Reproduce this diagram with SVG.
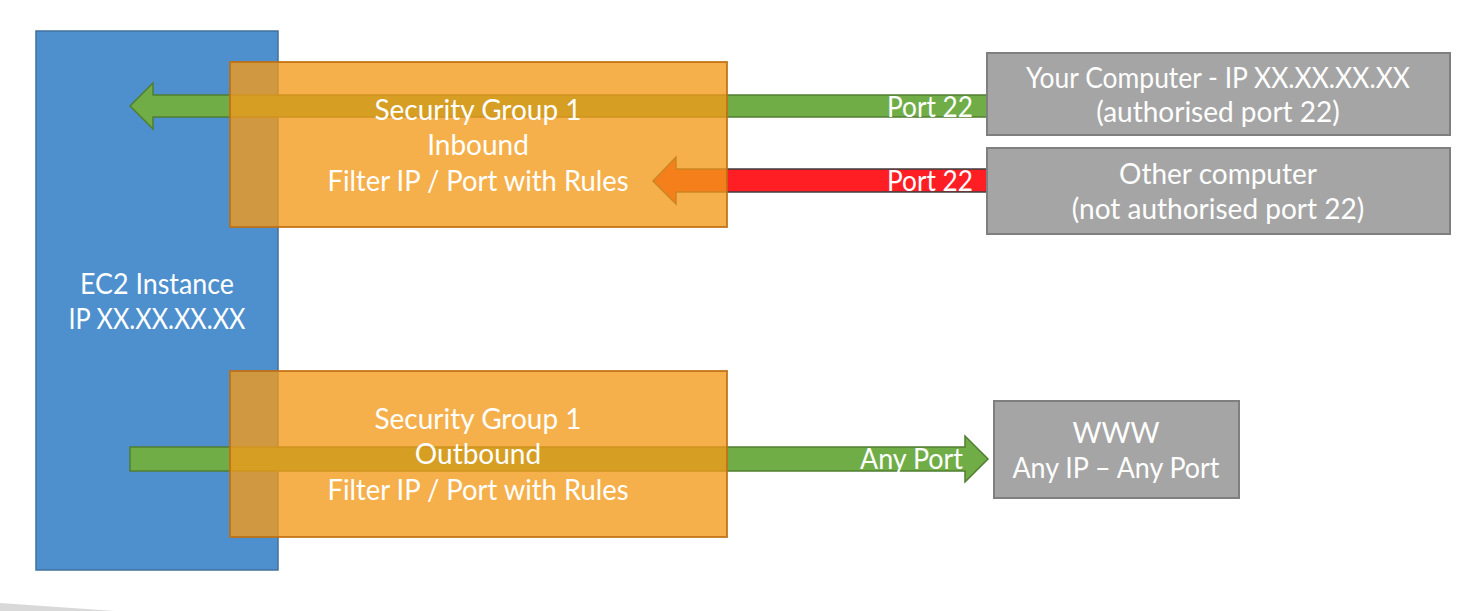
<svg xmlns="http://www.w3.org/2000/svg" width="1460" height="611" viewBox="0 0 1460 611">
  <style>
    .t { font-family: Lato, "Open Sans", "Liberation Sans", sans-serif; font-size: 28px; fill: #FFFFFF; text-anchor: middle; }
    .lbl { font-family: Lato, "Open Sans", "Liberation Sans", sans-serif; font-size: 28px; fill: #FFFFFF; text-anchor: end; }
    .sg { fill: #F29A19; fill-opacity: 0.785; stroke: #C06F10; stroke-opacity: 0.85; stroke-width: 2; }
    .gray { fill: #A5A5A5; stroke: #7F7F7F; stroke-width: 2; }
    .green { fill: #70AD47; stroke: #507E32; stroke-width: 1.5; }
    .red { fill: #FF1E24; stroke: #3F3F3F; stroke-width: 1.5; }
  </style>
  <rect width="1460" height="611" fill="#FFFFFF"/>
  <polygon points="0,603 115,611 0,611" fill="#D9D9D9"/>

  <g id="ec2">
    <rect x="36" y="31" width="242" height="539" fill="#4E8FCE" stroke="#41719C" stroke-width="1.5"/>
    <text class="t" x="157" y="294" textLength="154" lengthAdjust="spacingAndGlyphs">EC2 Instance</text>
    <text class="t" x="157" y="329" textLength="177" lengthAdjust="spacingAndGlyphs">IP XX.XX.XX.XX</text>
  </g>

  <g id="connectors">
    <path class="green" d="M130,106 L153,83 L153,95 L987,95 L987,117 L153,117 L153,129 Z"/>
    <path class="red" d="M653,181 L676,157 L676,169 L987,169 L987,192 L676,192 L676,204 Z"/>
    <path class="green" d="M130,447 L965,447 L965,436 L988,459 L965,482 L965,471 L130,471 Z"/>
  </g>

  <g id="sg-inbound">
    <rect class="sg" x="230" y="62" width="497" height="165"/>
    <text class="t" x="478" y="120">Security Group 1</text>
    <text class="t" x="478" y="155">Inbound</text>
    <text class="t" x="478" y="191" textLength="301" lengthAdjust="spacingAndGlyphs">Filter IP / Port with Rules</text>
  </g>

  <g id="sg-outbound">
    <rect class="sg" x="230" y="371" width="497" height="166"/>
    <text class="t" x="478" y="429">Security Group 1</text>
    <text class="t" x="478" y="464">Outbound</text>
    <text class="t" x="478" y="500" textLength="301" lengthAdjust="spacingAndGlyphs">Filter IP / Port with Rules</text>
  </g>

  <g id="labels">
    <text class="lbl" x="973" y="117" textLength="86" lengthAdjust="spacingAndGlyphs">Port 22</text>
    <text class="lbl" x="973" y="191" textLength="86" lengthAdjust="spacingAndGlyphs">Port 22</text>
    <text class="lbl" x="963" y="469" textLength="103" lengthAdjust="spacingAndGlyphs">Any Port</text>
  </g>

  <g id="your-computer">
    <rect class="gray" x="987" y="53" width="463" height="82"/>
    <text class="t" x="1218" y="88" textLength="384" lengthAdjust="spacingAndGlyphs">Your Computer - IP XX.XX.XX.XX</text>
    <text class="t" x="1218" y="122">(authorised port 22)</text>
  </g>

  <g id="other-computer">
    <rect class="gray" x="987" y="148" width="463" height="86"/>
    <text class="t" x="1218" y="184">Other computer</text>
    <text class="t" x="1218" y="219">(not authorised port 22)</text>
  </g>

  <g id="www">
    <rect class="gray" x="994" y="401" width="245" height="97"/>
    <text class="t" x="1116" y="443">WWW</text>
    <text class="t" x="1116" y="478" textLength="207" lengthAdjust="spacingAndGlyphs">Any IP – Any Port</text>
  </g>
</svg>
